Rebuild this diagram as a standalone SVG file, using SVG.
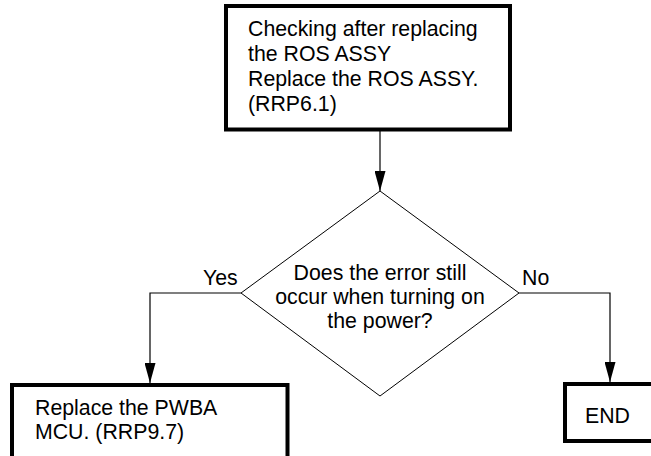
<svg xmlns="http://www.w3.org/2000/svg" width="651" height="456" viewBox="0 0 651 456">
<style>
  .box { fill: #fff; stroke: #000; stroke-width: 4; }
  .dia { fill: #fff; stroke: #000; stroke-width: 1; }
  .t { font-family: "Liberation Sans", Arial, sans-serif; font-size: 21.3px; fill: #000; }
  .c { text-anchor: middle; }
  .line { fill: none; stroke: #000; stroke-width: 1.2; }
</style>
<defs>
  <marker id="arr" viewBox="0 0 20 11" refX="20" refY="5.5" markerWidth="20" markerHeight="11" markerUnits="userSpaceOnUse" orient="auto">
    <path d="M0,0 L20,5.5 L0,11 Z" fill="#000"/>
  </marker>
</defs>
<rect width="651" height="456" fill="#fff"/>
<g id="connectors">
  <line class="line" x1="380" y1="131" x2="380" y2="191" marker-end="url(#arr)"/>
  <polyline class="line" points="241,293 150,293 150,383" marker-end="url(#arr)"/>
  <polyline class="line" points="519,293 610,293 610,382" marker-end="url(#arr)"/>
  <text class="t" x="203" y="285">Yes</text>
  <text class="t" x="522" y="285">No</text>
</g>
<g id="n1">
  <rect class="box" x="226" y="6" width="284" height="123.5"/>
  <text class="t" x="248" y="36">Checking after replacing</text>
  <text class="t" x="248" y="61">the ROS ASSY</text>
  <text class="t" x="248" y="86">Replace the ROS ASSY.</text>
  <text class="t" x="248" y="111">(RRP6.1)</text>
</g>
<g id="n2">
  <polygon class="dia" points="380,191 519,293 380,396 241,293"/>
  <text class="t c" x="380" y="280">Does the error still</text>
  <text class="t c" x="380" y="304">occur when turning on</text>
  <text class="t c" x="380" y="328">the power?</text>
</g>
<g id="n3">
  <rect class="box" x="12" y="385" width="275.5" height="90"/>
  <text class="t" x="35" y="415">Replace the PWBA</text>
  <text class="t" x="35" y="439">MCU. (RRP9.7)</text>
</g>
<g id="n4">
  <rect class="box" x="565" y="384" width="100" height="57"/>
  <text class="t" x="585" y="423">END</text>
</g>
</svg>
